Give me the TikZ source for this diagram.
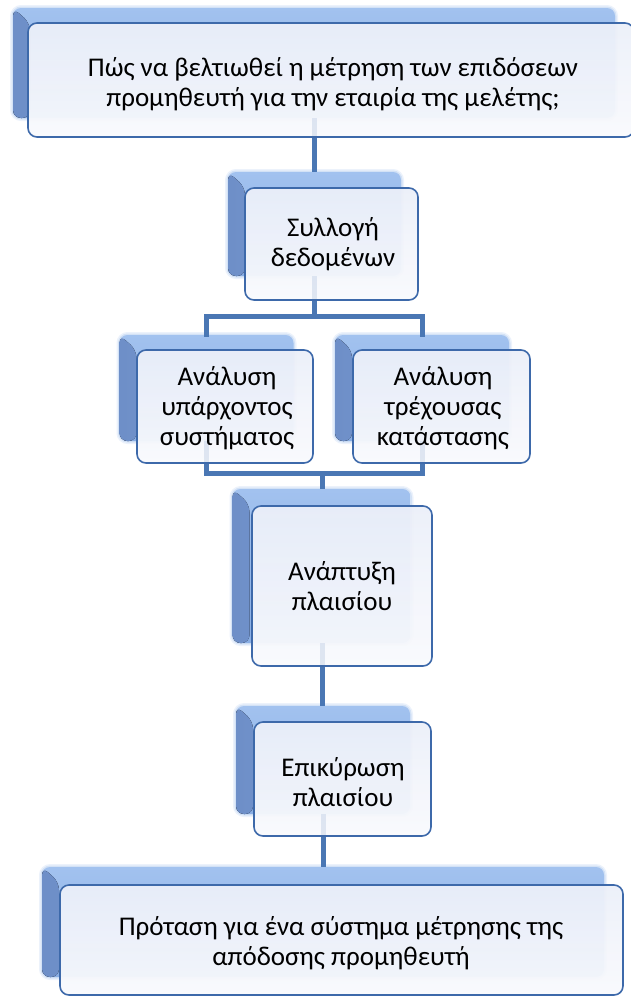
\documentclass[tikz,border=0pt]{standalone}
\usepackage{fontspec}
\setmainfont{Carlito}
\begin{document}
\begin{tikzpicture}[x=1pt,y=-1pt]
\definecolor{linkblue}{HTML}{4A77B4}
\definecolor{edgeblue}{HTML}{3D69AA}
\definecolor{backtop}{HTML}{A2C2EF}
\definecolor{backbot}{HTML}{8AAEE4}
\definecolor{backside}{HTML}{6E8FC8}
\definecolor{backsidelight}{HTML}{7B9BD2}
\definecolor{backglow}{HTML}{B4CDF0}
\definecolor{fronttop}{HTML}{EBEFF9}
\definecolor{frontbot}{HTML}{F9FAFD}
\tikzset{
  backpanel/.style={rectangle, rounded corners=8pt, draw=none, inner sep=0pt,
    top color=backtop, bottom color=backbot,
    preaction={draw=backglow, line width=6pt, opacity=0.25},
    preaction={draw=backglow, line width=3pt, opacity=0.45},
    path picture={
      \fill[left color=backside, right color=backsidelight]
        (path picture bounding box.north west) -- ++(17,15)
        |- (path picture bounding box.south west) -- cycle;
    }},
  frontpanel/.style={rectangle, rounded corners=9pt, draw=edgeblue, line width=1.6pt,
    top color=fronttop, bottom color=frontbot, fill opacity=0.95, inner sep=0pt},
  link/.style={draw=linkblue, line width=5pt},
  ghost/.style={draw=linkblue, line width=5pt, opacity=0.1},
  caption/.style={font=\fontsize{27}{30}\selectfont, align=center, text=black, inner sep=0pt}
}
\useasboundingbox (0,0) rectangle (630,996);

% back panels (offset up and left from the front cards)
\node[backpanel, minimum width=602, minimum height=110] (b1) at (314,63) {};
\node[backpanel, minimum width=173, minimum height=104] (b2) at (314.5,224) {};
\node[backpanel, minimum width=174, minimum height=106] (b3a) at (206.5,388) {};
\node[backpanel, minimum width=174, minimum height=106] (b3b) at (422,388) {};
\node[backpanel, minimum width=178, minimum height=154] (b4) at (321.5,566) {};
\node[backpanel, minimum width=174, minimum height=108] (b5) at (323,760) {};
\node[backpanel, minimum width=562, minimum height=110] (b6) at (323,922) {};

% connectors between the back panels
\coordinate (j1) at (314.5,316);
\coordinate (j2) at (322,473);
\draw[link] (b1.south -| b2.north) -- (b2.north);
\draw[link] (b2.south) -- (j1);
\draw[link, line cap=rect] (b3a.north) -- (b3a.north |- j1) -- (b3b.north |- j1) -- (b3b.north);
\draw[link, line cap=rect] (b3a.south) -- (b3a.south |- j2) -- (b3b.south |- j2) -- (b3b.south);
\draw[link] (j2) -- (b4.north -| j2);
\draw[link] (b4.south -| j2) -- (b5.north -| j2);
\draw[link] (b5.south) -- (b5.south |- b6.north);

% front cards
\node[frontpanel, minimum width=606, minimum height=114] (f1) at (331,80) {};
\node[frontpanel, minimum width=173, minimum height=112] (f2) at (331.5,244) {};
\node[frontpanel, minimum width=176, minimum height=113] (f3a) at (225,406.5) {};
\node[frontpanel, minimum width=177, minimum height=113] (f3b) at (441.5,406.5) {};
\node[frontpanel, minimum width=180, minimum height=160] (f4) at (342,586) {};
\node[frontpanel, minimum width=177, minimum height=114] (f5) at (342.5,779) {};
\node[frontpanel, minimum width=563, minimum height=110] (f6) at (341.5,940) {};

% faint traces of the connectors showing through the cards
\draw[ghost] (b1.south -| b2.north) -- (f1.south -| b2.north);
\draw[ghost] (b2.south) -- (b2.south |- f2.south);
\draw[ghost] (b3a.south) -- (b3a.south |- f3a.south);
\draw[ghost] (b3b.south) -- (b3b.south |- f3b.south);
\draw[ghost] (b4.south -| j2) -- (f4.south -| j2);
\draw[ghost] (b5.south) -- (b5.south |- f5.south);

% captions
\node[caption] (t1) at (333,84) {Πώς να βελτιωθεί η μέτρηση των επιδόσεων\\προμηθευτή για την εταιρία της μελέτης;};
\node[caption] (t2) at (333,244) {Συλλογή\\δεδομένων};
\node[caption] (t3a) at (227,408) {Ανάλυση\\υπάρχοντος\\συστήματος};
\node[caption] (t3b) at (443,408) {Ανάλυση\\τρέχουσας\\κατάστασης};
\node[caption] (t4) at (342,586) {Ανάπτυξη\\πλαισίου};
\node[caption] (t5) at (343,782) {Επικύρωση\\πλαισίου};
\node[caption] (t6) at (341,943) {Πρόταση για ένα σύστημα μέτρησης της\\απόδοσης προμηθευτή};
\end{tikzpicture}
\end{document}
